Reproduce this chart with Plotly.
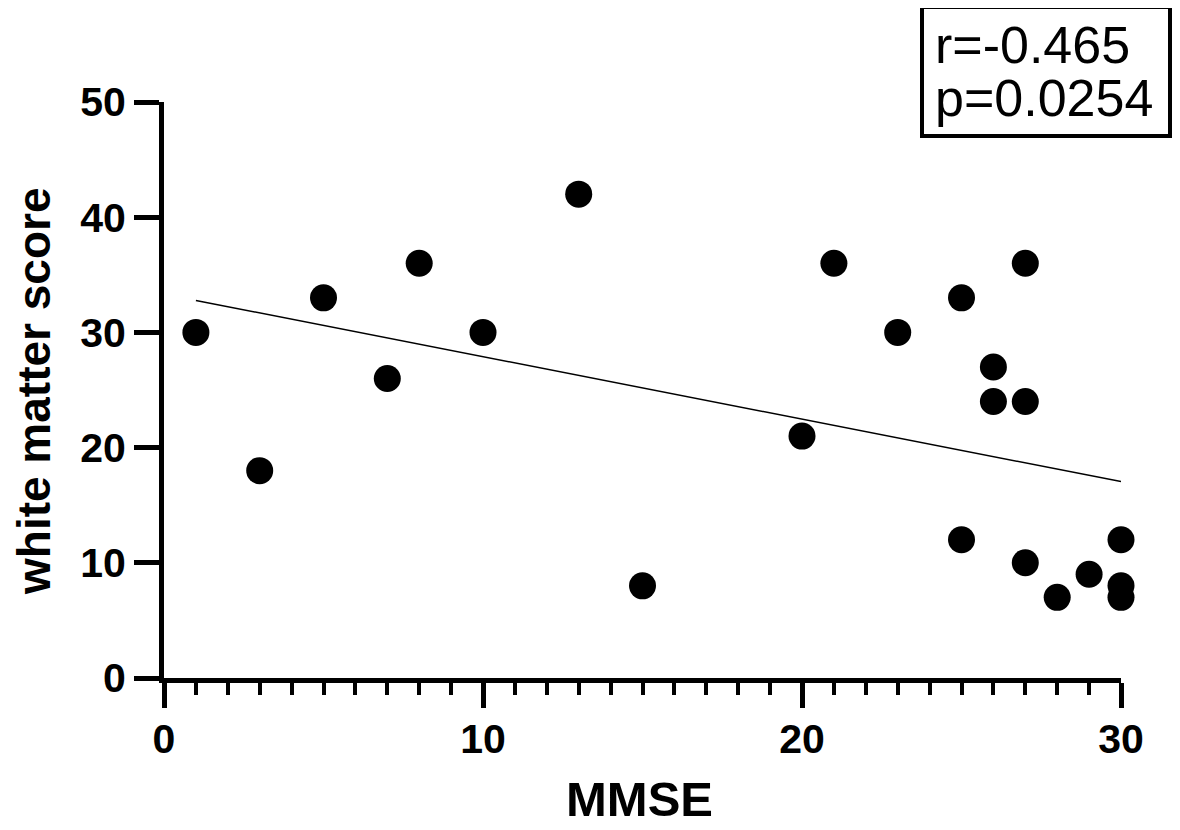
import numpy as np
import plotly.graph_objects as go

mmse = [1, 3, 5, 7, 8, 10, 13, 15, 20, 21, 23, 25, 25, 26, 26, 27, 27, 27, 28, 29, 30, 30, 30]
wm_score = [30, 18, 33, 26, 36, 30, 42, 8, 21, 36, 30, 33, 12, 27, 24, 36, 24, 10, 7, 9, 12, 8, 7]
stats_lines = ["r=-0.465", "p=0.0254"]
x_title = "<b>MMSE</b>"
y_title = "<b>white matter score</b>"

slope, intercept = np.polyfit(mmse, wm_score, 1)
fit_x = [min(mmse), max(mmse)]
fit_y = [slope * v + intercept for v in fit_x]

FONT = "Arial, Liberation Sans, sans-serif"
OFF = 8  # page body margin offset
W, H = 1180 - OFF, 830 - OFF
# plot area in screen pixels
L, R, T, B = 164, 1121, 102, 678
PW, PH = R - L, B - T


def px(xs):
    return (xs - L) / PW


def py(ys):
    return (B - ys) / PH


fig = go.Figure()
fig.add_trace(go.Scatter(x=fit_x, y=fit_y, mode="lines",
                         line=dict(color="black", width=1.5), showlegend=False))
fig.add_trace(go.Scatter(x=mmse, y=wm_score, mode="markers",
                         marker=dict(color="black", size=27, line=dict(width=0)),
                         cliponaxis=False, showlegend=False))

fig.update_layout(
    width=W, height=H,
    margin=dict(l=L - OFF, r=1180 - R, t=T - OFF, b=830 - B, autoexpand=False),
    paper_bgcolor="white", plot_bgcolor="white",
    font=dict(family=FONT, color="black"),
    xaxis=dict(
        range=[0, 30], tickmode="linear", tick0=0, dtick=10,
        showgrid=False, zeroline=False, automargin=False,
        showline=True, linecolor="black", linewidth=5,
        ticks="outside", ticklen=25, tickwidth=5, tickcolor="black",
        minor=dict(dtick=1, ticks="outside", ticklen=12, tickwidth=4, tickcolor="black"),
        tickfont=dict(family=FONT, size=41, color="black", weight="bold"),
        ticklabelstandoff=-4,
    ),
    yaxis=dict(
        range=[0, 50], tickmode="linear", tick0=0, dtick=10,
        showgrid=False, zeroline=False, automargin=False,
        showline=True, linecolor="black", linewidth=5,
        ticks="outside", ticklen=25, tickwidth=5, tickcolor="black",
        tickfont=dict(family=FONT, size=41, color="black", weight="bold"),
    ),
    shapes=[dict(type="rect", xref="paper", yref="paper",
                 x0=px(922), x1=px(1170), y0=py(136), y1=py(7),
                 line=dict(color="black", width=4), fillcolor="white", layer="above")],
    annotations=[
        dict(text=stats_lines[0], xref="paper", yref="paper", x=px(933), y=py(45),
             xanchor="left", yanchor="middle", showarrow=False,
             font=dict(family=FONT, size=52, color="black")),
        dict(text=stats_lines[1], xref="paper", yref="paper", x=px(933), y=py(98),
             xanchor="left", yanchor="middle", showarrow=False,
             font=dict(family=FONT, size=52, color="black")),
        dict(text=x_title, xref="paper", yref="paper", x=px(639), y=py(799),
             xanchor="center", yanchor="middle", showarrow=False,
             font=dict(family=FONT, size=49, color="black")),
        dict(text=y_title, xref="paper", yref="paper", x=px(34), y=py(392),
             xanchor="center", yanchor="middle", showarrow=False, textangle=-90,
             font=dict(family=FONT, size=46, color="black")),
    ],
)

fig.write_html("out.html")
